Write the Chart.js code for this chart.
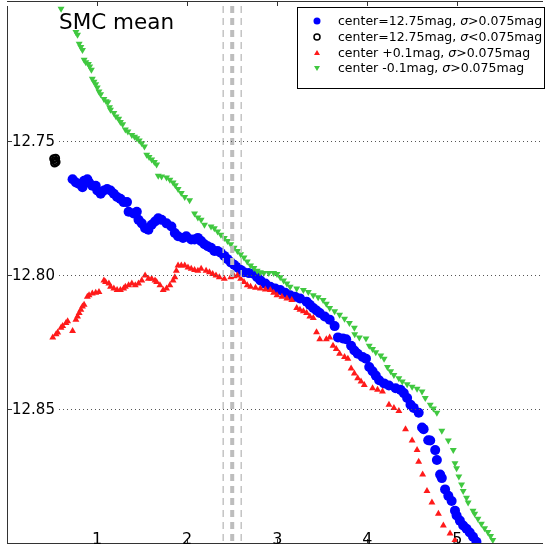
<!DOCTYPE html>
<html>
<head>
<meta charset="utf-8">
<script src="https://cdn.jsdelivr.net/npm/chart.js@4/dist/chart.umd.min.js"></script>
<style>
html,body{margin:0;padding:0;background:#fff;}
#wrap{width:549px;height:550px;}
</style>
</head>
<body>
<div id="wrap"><canvas id="c" width="549" height="550"></canvas></div>
<script>
// ---- data ----
const titleText = "SMC mean";
const xTicks = [1, 2, 3, 4, 5];
const yTicks = [12.75, 12.80, 12.85];
const refLines = [2.4, 2.5, 2.6];
const legendLabels = [
  ["center=12.75mag, ", "σ", ">0.075mag"],
  ["center=12.75mag, ", "σ", "<0.075mag"],
  ["center +0.1mag, ", "σ", ">0.075mag"],
  ["center -0.1mag, ", "σ", ">0.075mag"]
];

const blueX = [0.728,0.765,0.801,0.838,0.856,0.892,0.911,0.947,0.985,1.002,1.040,1.076,1.112,1.149,1.186,1.222,1.259,1.295,1.332,1.350,1.405,1.441,1.460,1.496,1.533,1.570,1.606,1.643,1.679,1.716,1.771,1.825,1.863,1.899,1.954,1.990,2.045,2.082,2.119,2.155,2.192,2.228,2.265,2.302,2.338,2.374,2.412,2.448,2.484,2.521,2.558,2.594,2.631,2.686,2.741,2.777,2.813,2.868,2.923,2.978,3.033,3.088,3.143,3.198,3.252,3.326,3.362,3.400,3.436,3.472,3.527,3.582,3.637,3.674,3.729,3.765,3.820,3.856,3.893,3.948,3.985,4.021,4.058,4.094,4.131,4.186,4.240,4.314,4.369,4.405,4.442,4.479,4.515,4.570,4.607,4.625,4.676,4.698,4.753,4.772,4.808,4.827,4.863,4.899,4.936,4.973,4.991,5.027,5.064,5.101,5.137,5.173,5.211];
const blueY = [12.7644,12.7656,12.7662,12.7674,12.7650,12.7644,12.7656,12.7668,12.7668,12.7686,12.7698,12.7686,12.7680,12.7686,12.7698,12.7710,12.7717,12.7729,12.7729,12.7765,12.7771,12.7765,12.7795,12.7808,12.7826,12.7832,12.7813,12.7801,12.7789,12.7795,12.7808,12.7820,12.7844,12.7856,12.7862,12.7856,12.7868,12.7868,12.7862,12.7874,12.7886,12.7893,12.7899,12.7911,12.7911,12.7917,12.7929,12.7941,12.7953,12.7962,12.7972,12.7981,12.7990,12.7993,12.7996,12.8008,12.8020,12.8032,12.8044,12.8050,12.8056,12.8066,12.8075,12.8081,12.8087,12.8099,12.8111,12.8123,12.8132,12.8141,12.8154,12.8166,12.8190,12.8232,12.8236,12.8239,12.8263,12.8281,12.8293,12.8305,12.8311,12.8342,12.8358,12.8374,12.8391,12.8403,12.8411,12.8421,12.8427,12.8439,12.8457,12.8482,12.8494,12.8512,12.8567,12.8573,12.8614,12.8615,12.8651,12.8688,12.8742,12.8755,12.8797,12.8821,12.8840,12.8876,12.8894,12.8913,12.8931,12.8943,12.8957,12.8973,12.8992];

const blackX = [0.518,0.532,0.545,0.528,0.540];
const blackY = [12.7568,12.7575,12.7580,12.7584,12.7566];

const redX = [0.508,0.545,0.563,0.600,0.618,0.655,0.673,0.728,0.765,0.783,0.801,0.820,0.838,0.856,0.892,0.911,0.947,0.985,1.021,1.076,1.094,1.131,1.149,1.186,1.222,1.259,1.295,1.314,1.350,1.386,1.424,1.460,1.496,1.533,1.570,1.606,1.643,1.661,1.698,1.734,1.771,1.808,1.844,1.863,1.880,1.899,1.935,1.973,2.009,2.045,2.082,2.119,2.155,2.210,2.247,2.283,2.320,2.357,2.412,2.484,2.521,2.558,2.594,2.631,2.667,2.704,2.759,2.813,2.868,2.923,2.960,2.997,3.052,3.107,3.161,3.216,3.252,3.290,3.326,3.362,3.400,3.436,3.472,3.545,3.582,3.619,3.655,3.692,3.747,3.784,3.820,3.856,3.893,3.930,3.966,4.058,4.113,4.168,4.240,4.295,4.350,4.424,4.497,4.552,4.570,4.614,4.662,4.717,4.789,4.844,4.918,4.973];
const redY = [12.8232,12.8220,12.8214,12.8196,12.8190,12.8178,12.8172,12.8208,12.8166,12.8154,12.8141,12.8129,12.8117,12.8111,12.8081,12.8075,12.8069,12.8066,12.8063,12.8020,12.8026,12.8032,12.8044,12.8050,12.8056,12.8056,12.8050,12.8044,12.8038,12.8032,12.8038,12.8032,12.8020,12.8002,12.8014,12.8014,12.8020,12.8026,12.8038,12.8056,12.8050,12.8038,12.8020,12.8008,12.7984,12.7965,12.7965,12.7965,12.7972,12.7977,12.7981,12.7984,12.7977,12.7984,12.7990,12.7996,12.8002,12.8008,12.8014,12.8008,12.8005,12.8002,12.8014,12.8026,12.8038,12.8044,12.8047,12.8050,12.8054,12.8056,12.8066,12.8075,12.8081,12.8087,12.8093,12.8123,12.8129,12.8135,12.8141,12.8154,12.8160,12.8213,12.8239,12.8239,12.8232,12.8263,12.8275,12.8293,12.8305,12.8311,12.8348,12.8366,12.8384,12.8396,12.8409,12.8421,12.8427,12.8433,12.8482,12.8494,12.8506,12.8573,12.8615,12.8651,12.8694,12.8742,12.8803,12.8846,12.8888,12.8931,12.8961,12.8985];

const greenX = [0.600,0.765,0.783,0.801,0.820,0.838,0.856,0.875,0.904,0.918,0.937,0.947,0.966,0.985,1.002,1.021,1.040,1.076,1.101,1.120,1.138,1.149,1.186,1.211,1.240,1.259,1.284,1.314,1.342,1.386,1.416,1.441,1.468,1.496,1.526,1.551,1.577,1.606,1.636,1.661,1.679,1.716,1.771,1.808,1.844,1.869,1.899,1.935,1.973,2.027,2.082,2.119,2.155,2.192,2.265,2.302,2.338,2.374,2.412,2.448,2.484,2.521,2.558,2.594,2.631,2.667,2.704,2.741,2.777,2.813,2.851,2.906,2.960,2.997,3.033,3.070,3.107,3.143,3.216,3.290,3.345,3.400,3.454,3.509,3.545,3.582,3.637,3.692,3.747,3.801,3.856,3.860,3.911,3.985,4.021,4.058,4.094,4.149,4.186,4.223,4.259,4.295,4.350,4.388,4.442,4.497,4.552,4.607,4.643,4.698,4.734,4.772,4.827,4.899,4.954,4.973,4.991,5.016,5.046,5.064,5.101,5.119,5.173,5.192,5.228,5.266,5.302,5.338,5.368,5.393];
const greenY = [12.7010,12.7097,12.7107,12.7140,12.7152,12.7164,12.7200,12.7209,12.7216,12.7225,12.7237,12.7270,12.7282,12.7291,12.7303,12.7318,12.7328,12.7346,12.7354,12.7358,12.7376,12.7386,12.7398,12.7411,12.7419,12.7431,12.7440,12.7459,12.7467,12.7480,12.7486,12.7492,12.7500,12.7510,12.7522,12.7553,12.7561,12.7571,12.7580,12.7589,12.7631,12.7634,12.7638,12.7646,12.7656,12.7666,12.7680,12.7695,12.7710,12.7722,12.7771,12.7786,12.7795,12.7813,12.7820,12.7826,12.7838,12.7850,12.7862,12.7874,12.7886,12.7899,12.7911,12.7923,12.7935,12.7950,12.7965,12.7974,12.7984,12.7990,12.7993,12.7993,12.7993,12.7996,12.8008,12.8020,12.8032,12.8044,12.8050,12.8056,12.8063,12.8075,12.8083,12.8093,12.8107,12.8123,12.8135,12.8148,12.8163,12.8178,12.8196,12.8220,12.8232,12.8236,12.8263,12.8275,12.8287,12.8299,12.8311,12.8342,12.8358,12.8372,12.8384,12.8396,12.8406,12.8415,12.8423,12.8433,12.8457,12.8482,12.8496,12.8512,12.8579,12.8615,12.8651,12.8700,12.8718,12.8749,12.8779,12.8803,12.8828,12.8846,12.8876,12.8888,12.8906,12.8925,12.8941,12.8955,12.8970,12.8985];

const colBlue = "#0000ff";
const colRed = "#ff1a1a";
const colGreen = "rgb(64,200,64)";
const FONT = "'DejaVu Sans', sans-serif";

function pts(xs, ys){ return xs.map((x,i)=>({x:x, y:ys[i]})); }

const decor = {
  id: 'decor',
  beforeDraw(chart){
    const ctx = chart.ctx;
    ctx.save();
    ctx.fillStyle = '#fff';
    ctx.fillRect(0,0,chart.width,chart.height);
    ctx.restore();
  },
  afterDatasetsDraw(chart){
    const ctx = chart.ctx, xs = chart.scales.x, ys = chart.scales.y, a = chart.chartArea;
    ctx.save();
    // vertical dashed reference lines
    refLines.forEach((v,i)=>{
      const px = xs.getPixelForValue(v);
      ctx.beginPath();
      ctx.setLineDash([7,5]);
      ctx.lineWidth = (i===1) ? 4 : 1.5;
      ctx.strokeStyle = (i===1) ? '#bdbdbd' : '#c4c4c4';
      ctx.moveTo(px, a.top); ctx.lineTo(px, a.bottom);
      ctx.stroke();
    });
    // horizontal dotted grid
    ctx.setLineDash([1,3]);
    ctx.lineWidth = 1;
    ctx.strokeStyle = '#555';
    yTicks.forEach(v=>{
      const py = Math.round(ys.getPixelForValue(v))+0.5;
      ctx.beginPath(); ctx.moveTo(a.left, py); ctx.lineTo(a.right, py); ctx.stroke();
    });
    ctx.setLineDash([]);
    // y tick labels with white backdrop
    ctx.font = "15px " + FONT;
    ctx.textBaseline = 'middle';
    ctx.textAlign = 'left';
    yTicks.forEach(v=>{
      const py = Math.round(ys.getPixelForValue(v))+0.5;
      const t = v.toFixed(2);
      const w = ctx.measureText(t).width;
      ctx.fillStyle = '#fff';
      ctx.fillRect(a.left+1, py-8, w+7, 16);
      ctx.fillStyle = '#000';
      ctx.fillText(t, a.left+5, py+1);
    });
    // frame
    ctx.strokeStyle = '#333';
    ctx.lineWidth = 1;
    ctx.beginPath();
    ctx.moveTo(a.left+0.5, a.top); ctx.lineTo(a.left+0.5, a.bottom);
    ctx.moveTo(a.left, 1.5); ctx.lineTo(a.right, 1.5);
    ctx.moveTo(a.left, a.bottom-0.5); ctx.lineTo(a.right, a.bottom-0.5);
    ctx.stroke();
    // ticks
    ctx.beginPath();
    xTicks.forEach(v=>{
      const px = Math.round(xs.getPixelForValue(v))+0.5;
      ctx.moveTo(px, 1.5); ctx.lineTo(px, 6);
      ctx.moveTo(px, a.bottom-0.5); ctx.lineTo(px, a.bottom-5);
    });
    yTicks.forEach(v=>{
      const py = Math.round(ys.getPixelForValue(v))+0.5;
      ctx.moveTo(a.left, py); ctx.lineTo(a.left+5, py);
    });
    ctx.stroke();
    // x tick labels inside
    ctx.fillStyle = '#000';
    ctx.font = "16px " + FONT;
    ctx.textAlign = 'center';
    ctx.textBaseline = 'alphabetic';
    xTicks.forEach(v=>{
      ctx.fillText(String(v), xs.getPixelForValue(v), 544);
    });
    // title
    ctx.font = "21.5px " + FONT;
    ctx.textAlign = 'left';
    ctx.fillText(titleText, 59, 29);
    // legend
    const lx = 297.5, ly = 7.5, lw = 247, lh = 81;
    ctx.fillStyle = '#fff';
    ctx.fillRect(lx, ly, lw, lh);
    ctx.strokeStyle = '#000';
    ctx.lineWidth = 1;
    ctx.strokeRect(lx, ly, lw, lh);
    const rowsY = [21, 37, 53, 68];
    const mx = 317;
    ctx.fillStyle = colBlue;
    ctx.beginPath(); ctx.arc(mx, rowsY[0], 3.5, 0, Math.PI*2); ctx.fill();
    ctx.strokeStyle = '#000'; ctx.lineWidth = 1.5;
    ctx.beginPath(); ctx.arc(mx, rowsY[1], 3, 0, Math.PI*2); ctx.stroke();
    ctx.fillStyle = colRed;
    ctx.beginPath(); ctx.moveTo(mx, rowsY[2]-3); ctx.lineTo(mx+3, rowsY[2]+2); ctx.lineTo(mx-3, rowsY[2]+2); ctx.closePath(); ctx.fill();
    ctx.fillStyle = colGreen;
    ctx.beginPath(); ctx.moveTo(mx, rowsY[3]+3); ctx.lineTo(mx+3, rowsY[3]-2); ctx.lineTo(mx-3, rowsY[3]-2); ctx.closePath(); ctx.fill();
    ctx.fillStyle = '#000';
    ctx.textBaseline = 'middle';
    legendLabels.forEach((parts, i)=>{
      let x = 338;
      const y = rowsY[i] + 0.5;
      ctx.font = "12.5px " + FONT;
      ctx.fillText(parts[0], x, y); x += ctx.measureText(parts[0]).width;
      ctx.font = "italic 12.5px " + FONT;
      ctx.fillText(parts[1], x, y); x += ctx.measureText(parts[1]).width;
      ctx.font = "12.5px " + FONT;
      ctx.fillText(parts[2], x, y);
    });
    ctx.restore();
  }
};

new Chart(document.getElementById('c'), {
  type: 'scatter',
  data: {
    datasets: [
      { label: 'center=12.75mag, σ>0.075mag', data: pts(blueX, blueY), backgroundColor: colBlue, borderWidth: 0, pointRadius: 5, pointStyle: 'circle', order: 3 },
      { label: 'center=12.75mag, σ<0.075mag', data: pts(blackX, blackY), backgroundColor: 'rgba(255,255,255,0)', borderColor: '#000', borderWidth: 2, pointRadius: 3.5, pointStyle: 'circle', order: 2 },
      { label: 'center +0.1mag, σ>0.075mag', data: pts(redX, redY), backgroundColor: colRed, borderWidth: 0, pointRadius: 4, pointStyle: 'triangle', order: 1 },
      { label: 'center -0.1mag, σ>0.075mag', data: pts(greenX, greenY), backgroundColor: colGreen, borderWidth: 0, pointRadius: 4, pointStyle: 'triangle', pointRotation: 180, order: 0 }
    ]
  },
  options: {
    responsive: false,
    animation: false,
    devicePixelRatio: 1,
    layout: { padding: { left: 7, right: 0, top: 0, bottom: 1 } },
    plugins: { legend: { display: false }, tooltip: { enabled: false }, title: { display: false } },
    scales: {
      x: { type: 'linear', min: 0, max: 5.95, display: false },
      y: { type: 'linear', min: 12.70, max: 12.90, reverse: true, display: false }
    }
  },
  plugins: [decor]
});
</script>
</body>
</html>
